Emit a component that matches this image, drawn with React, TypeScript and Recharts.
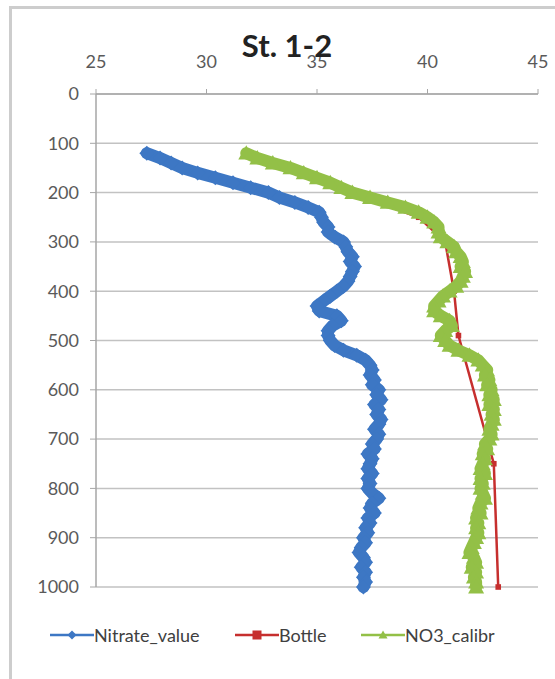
import React from 'react';
import { ScatterChart, Scatter, XAxis, YAxis, CartesianGrid, Legend } from 'recharts';

// depth of each sensor reading (m), shared by the raw and calibrated casts
const sensorDepth = [
  120, 130, 140, 150, 160, 170, 180, 190, 200, 210,
  220, 230, 240, 250, 260, 270, 280, 290, 300, 310,
  320, 330, 340, 350, 360, 370, 380, 390, 400, 410,
  420, 430, 440, 450, 460, 470, 480, 490, 500, 510,
  520, 530, 540, 550, 560, 570, 580, 590, 600, 610,
  620, 630, 640, 650, 660, 670, 680, 690, 700, 710,
  720, 730, 740, 750, 760, 770, 780, 790, 800, 810,
  820, 830, 840, 850, 860, 870, 880, 890, 900, 910,
  920, 930, 940, 950, 960, 970, 980, 990, 1000,
];

const nitrateValue = [
  27.3, 27.9, 28.4, 28.9, 29.6, 30.4, 31.2, 32.0, 32.8, 33.3,
  34.0, 34.6, 35.1, 35.2, 35.3, 35.5, 35.5, 35.8, 36.2, 36.3,
  36.4, 36.6, 36.5, 36.7, 36.6, 36.5, 36.4, 36.2, 35.9, 35.6,
  35.3, 35.0, 35.1, 35.9, 36.1, 35.7, 35.5, 35.5, 35.6, 35.8,
  36.2, 36.8, 37.2, 37.4, 37.5, 37.4, 37.6, 37.5, 37.8, 37.7,
  37.9, 37.6, 37.8, 37.7, 37.9, 37.8, 37.6, 37.8, 37.7, 37.5,
  37.6, 37.3, 37.5, 37.4, 37.3, 37.5, 37.3, 37.4, 37.3, 37.5,
  37.8, 37.5, 37.4, 37.6, 37.3, 37.4, 37.2, 37.3, 37.1, 37.2,
  37.0, 36.9, 37.1, 37.2, 37.0, 37.2, 37.1, 37.2, 37.1,
];

const no3Calibr = [
  31.8, 32.3, 33.0, 33.8, 34.4, 35.0, 35.6, 36.1, 36.6, 37.4,
  38.2, 39.0, 39.6, 40.0, 40.3, 40.5, 40.5, 40.6, 40.9, 41.2,
  41.3, 41.5, 41.6, 41.5, 41.7, 41.6, 41.5, 41.3, 41.0, 40.7,
  40.5, 40.3, 40.3, 40.6, 41.0, 41.1, 40.8, 40.6, 40.8, 41.0,
  41.4, 41.9, 42.3, 42.5, 42.7, 42.6, 42.8, 42.7, 42.9, 42.8,
  43.0, 42.8, 43.0, 42.9, 43.0, 42.9, 42.8, 42.9, 42.8, 42.6,
  42.7, 42.5, 42.6, 42.5, 42.4, 42.6, 42.4, 42.5, 42.4, 42.5,
  42.6, 42.4, 42.3, 42.4, 42.2, 42.3, 42.2, 42.3, 42.2, 42.1,
  42.0, 41.9, 42.1, 42.2, 42.0, 42.2, 42.1, 42.2, 42.2,
];

const bottleDepth = [125, 200, 250, 300, 400, 490, 750, 1000];
const bottleValue = [32.0, 36.5, 39.6, 40.8, 41.2, 41.4, 43.0, 43.2];

const concTicks = [25, 30, 35, 40, 45];
const depthTicks = [0, 100, 200, 300, 400, 500, 600, 700, 800, 900, 1000];

const BLUE = '#3d77c4';
const RED = '#c62f2e';
const GREEN = '#93c047';
const FONT = 'Lato, "Open Sans", sans-serif';
const TICK = { fill: '#5a5a5a', fontSize: 18, fontFamily: FONT };

const nitrateData = sensorDepth.map((d, i) => ({ x: nitrateValue[i], y: d }));
const calibrData = sensorDepth.map((d, i) => ({ x: no3Calibr[i], y: d }));
const bottleData = bottleDepth.map((d, i) => ({ x: bottleValue[i], y: d }));

type Kind = 'diamond' | 'square' | 'triangle';

// legend entries in series order
const legendItems: { name: string; color: string; kind: Kind; width: number }[] = [
  { name: 'Nitrate_value', color: BLUE, kind: 'diamond', width: 185 },
  { name: 'Bottle', color: RED, kind: 'square', width: 126 },
  { name: 'NO3_calibr', color: GREEN, kind: 'triangle', width: 140 },
];

function marker(kind: Kind, cx: number, cy: number, r: number, color: string) {
  if (kind === 'diamond') {
    return <polygon points={`${cx},${cy - r} ${cx + r},${cy} ${cx},${cy + r} ${cx - r},${cy}`} fill={color} />;
  }
  if (kind === 'square') {
    return <rect x={cx - r} y={cy - r} width={r * 2} height={r * 2} fill={color} />;
  }
  return <polygon points={`${cx},${cy - r} ${cx + r},${cy + r * 0.8} ${cx - r},${cy + r * 0.8}`} fill={color} />;
}

const BlueDot = (p: any) => marker('diamond', p.cx, p.cy, 7.5, BLUE);
const RedDot = (p: any) => marker('square', p.cx, p.cy, 2.8, RED);
const GreenDot = (p: any) => marker('triangle', p.cx, p.cy, 8, GREEN);

const ProfileLegend = () => (
  <div style={{ display: 'flex', alignItems: 'center', fontFamily: FONT, fontSize: 18, color: '#404040' }}>
    {legendItems.map((item) => (
      <div key={item.name} style={{ display: 'flex', alignItems: 'center', width: item.width }}>
        <svg width={44} height={14} style={{ display: 'block' }}>
          <line x1={0} y1={7} x2={44} y2={7} stroke={item.color} strokeWidth={2.5} />
          {marker(item.kind, 22, 7, 4.5, item.color)}
        </svg>
        <span>{item.name}</span>
      </div>
    ))}
  </div>
);

export default function App() {
  document.body.style.margin = '0';
  document.body.style.overflow = 'hidden';
  return (
    <div style={{ position: 'relative', width: 555, height: 679, background: '#fff', overflow: 'hidden' }}>
      <div
        style={{
          position: 'absolute',
          left: 9,
          top: 6,
          width: 580,
          height: 700,
          border: '3px solid #cdcdcd',
          boxSizing: 'border-box',
        }}
      />
      <div style={{ position: 'absolute', left: 0, top: 0 }}>
        <ScatterChart width={555} height={679} margin={{ top: 64, right: 17, bottom: 56, left: 36 }}>
          <CartesianGrid vertical={false} stroke="#c2c2c2" strokeWidth={1.5} />
          <XAxis
            type="number"
            dataKey="x"
            orientation="top"
            domain={[25, 45]}
            ticks={concTicks}
            interval={0}
            height={30}
            tickSize={5}
            tickMargin={21}
            tick={TICK}
            axisLine={{ stroke: '#a6a6a6', strokeWidth: 1.5 }}
            tickLine={{ stroke: '#a6a6a6' }}
          />
          <YAxis
            type="number"
            dataKey="y"
            reversed
            domain={[0, 1000]}
            ticks={depthTicks}
            interval={0}
            width={60}
            tickSize={6}
            tickMargin={11}
            tick={TICK}
            axisLine={{ stroke: '#a6a6a6', strokeWidth: 1.5 }}
            tickLine={{ stroke: '#a6a6a6' }}
          />
          <Legend
            verticalAlign="bottom"
            height={36}
            content={ProfileLegend}
            wrapperStyle={{ top: 624, bottom: 'auto', left: 50, width: 480 }}
          />
          <Scatter
            name="Nitrate_value"
            data={nitrateData}
            fill={BLUE}
            shape={BlueDot}
            line={{ stroke: BLUE, strokeWidth: 12, strokeLinejoin: 'round', strokeLinecap: 'round' }}
            isAnimationActive={false}
          />
          <Scatter
            name="Bottle"
            data={bottleData}
            fill={RED}
            shape={RedDot}
            line={{ stroke: RED, strokeWidth: 2.5 }}
            isAnimationActive={false}
          />
          <Scatter
            name="NO3_calibr"
            data={calibrData}
            fill={GREEN}
            shape={GreenDot}
            line={{ stroke: GREEN, strokeWidth: 12, strokeLinejoin: 'round', strokeLinecap: 'round' }}
            isAnimationActive={false}
          />
        </ScatterChart>
      </div>
      <svg width={555} height={80} style={{ position: 'absolute', left: 0, top: 0, pointerEvents: 'none' }}>
        <text x={287} y={57} textAnchor="middle" fontFamily={FONT} fontWeight={700} fontSize={31} fill="#222">
          St. 1-2
        </text>
      </svg>
    </div>
  );
}
